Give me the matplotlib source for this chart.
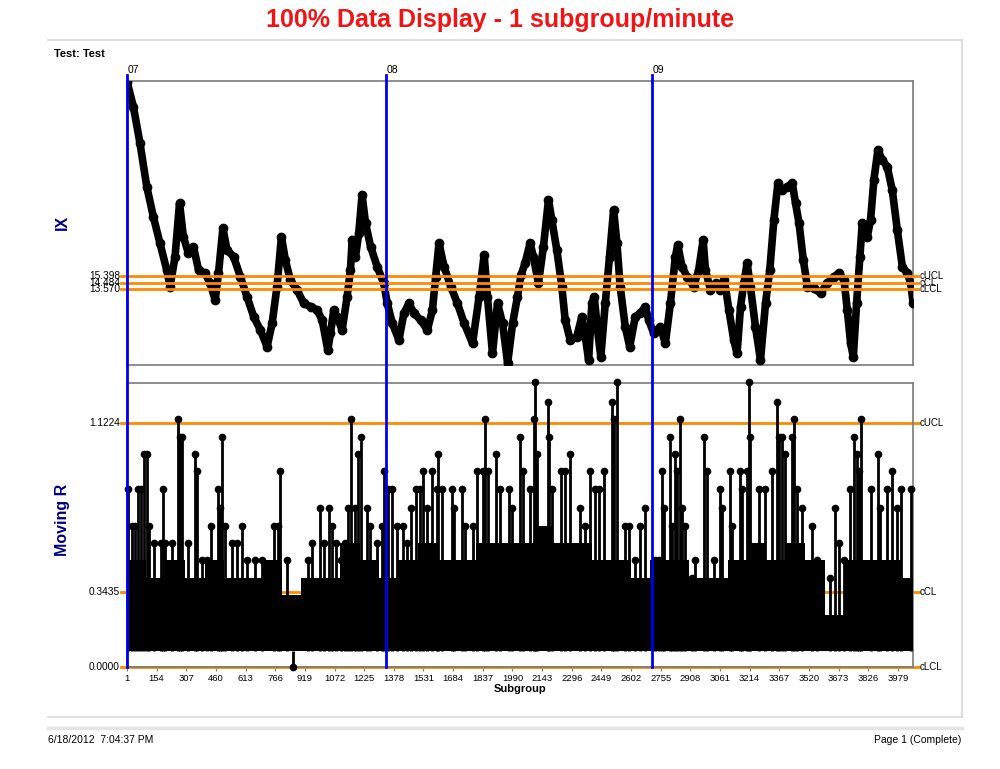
import matplotlib
matplotlib.use("Agg")
import matplotlib.pyplot as plt
from matplotlib.lines import Line2D

plt.rcParams['font.family'] = ['Liberation Sans', 'DejaVu Sans']

# ---- data ----
# IX trace (subgroup, value)
ix_sub = [1, 34, 68, 103, 137, 171, 206, 223, 249, 272, 292, 318, 344, 370, 404,
          430, 456, 473, 496, 517, 551, 586, 620, 655, 689, 724, 750, 775, 798, 818,
          844, 879, 913, 948, 982, 1008, 1037, 1051, 1068, 1085, 1111, 1137, 1154,
          1163, 1180, 1197, 1214, 1232, 1258, 1292, 1326, 1344, 1370, 1404, 1430,
          1456, 1482, 1516, 1551, 1577, 1594, 1611, 1637, 1672, 1706, 1741, 1784,
          1818, 1844, 1861, 1887, 1913, 1939, 1965, 1991, 2016, 2034, 2055, 2081,
          2098, 2124, 2150, 2176, 2193, 2219, 2245, 2262, 2288, 2322, 2348, 2366,
          2383, 2400, 2412, 2429, 2446, 2469, 2491, 2512, 2529, 2546, 2572, 2595,
          2624, 2650, 2676, 2693, 2719, 2753, 2779, 2805, 2831, 2843, 2865, 2891,
          2925, 2951, 2974, 2986, 3012, 3038, 3063, 3084, 3107, 3132, 3149, 3167,
          3184, 3201, 3218, 3244, 3270, 3296, 3318, 3339, 3360, 3382, 3408, 3434,
          3451, 3469, 3491, 3512, 3546, 3580, 3615, 3649, 3675, 3701, 3718, 3735,
          3749, 3766, 3783, 3795, 3821, 3838, 3855, 3876, 3898, 3924, 3950, 3976,
          4002, 4028, 4045, 4058]
ix_val = [42.1, 38.66, 33.63, 27.67, 23.55, 19.9, 16.23, 13.94, 18.06, 25.39, 20.8,
          18.52, 19.43, 16.23, 15.77, 14.4, 12.11, 15.77, 21.95, 18.98, 18.06, 15.31,
          12.56, 9.81, 7.99, 5.69, 8.91, 13.94, 20.8, 17.6, 14.85, 13.48, 11.65,
          11.19, 10.73, 9.36, 5.24, 7.53, 10.73, 9.81, 7.99, 12.56, 16.23, 20.35,
          18.06, 21.27, 26.53, 22.64, 19.43, 16.68, 14.4, 11.65, 8.91, 6.61, 10.28,
          11.65, 10.28, 9.36, 7.99, 10.73, 15.31, 19.9, 16.68, 13.94, 11.65, 8.91,
          6.16, 12.56, 18.29, 12.56, 4.78, 11.65, 8.91, 3.41, 8.91, 12.56, 15.5,
          17.15, 19.9, 18.06, 14.4, 19.43, 25.84, 23.1, 18.98, 13.94, 9.36, 6.61,
          7.07, 9.81, 7.07, 3.87, 11.65, 12.56, 7.99, 4.32, 11.65, 18.06, 24.47,
          19.9, 13.94, 8.44, 5.69, 9.81, 10.28, 11.19, 9.36, 7.53, 8.44, 6.16, 11.65,
          18.06, 19.66, 16.68, 15.31, 13.94, 16.23, 20.35, 16.23, 13.48, 14.4, 13.48,
          14.85, 10.73, 6.61, 4.78, 11.19, 14.4, 17.15, 13.94, 8.44, 3.87, 11.65,
          16.23, 23.1, 28.13, 27.2, 27.67, 28.13, 25.39, 22.64, 17.6, 13.94, 13.71,
          13.03, 14.4, 15.31, 15.77, 14.85, 10.73, 6.16, 4.32, 11.65, 18.06, 22.64,
          20.8, 23.1, 28.59, 32.71, 31.34, 30.42, 27.2, 21.72, 16.68, 15.77, 14.4,
          11.65]

ix_limits = [15.398, 14.484, 13.570]
ix_limit_names = ['cUCL', 'cCL', 'cLCL']
mr_limits = [1.1224, 0.3435, 0.0000]
mr_limit_names = ['cUCL', 'cCL', 'cLCL']

# moving range: dense core band (top level per 100 subgroups)
mr_band_sub = [1, 101, 201, 301, 401, 501, 601, 701, 801, 901, 1001, 1101, 1201,
               1301, 1401, 1501, 1601, 1701, 1801, 1901, 2001, 2101, 2201, 2301,
               2401, 2501, 2601, 2701, 2801, 2901, 3001, 3101, 3201, 3301, 3401,
               3501, 3601, 3701, 3801, 3901, 4001]
mr_band_top = [0.49, 0.41, 0.49, 0.41, 0.49, 0.41, 0.41, 0.49, 0.33, 0.41, 0.41,
               0.57, 0.49, 0.41, 0.49, 0.57, 0.49, 0.49, 0.57, 0.57, 0.57, 0.65,
               0.57, 0.57, 0.49, 0.49, 0.41, 0.49, 0.49, 0.41, 0.41, 0.49, 0.57,
               0.49, 0.57, 0.49, 0.24, 0.49, 0.49, 0.49, 0.41]
mr_floor = 0.075

# moving range: individual spikes above the band
mr_spike_sub = [8, 25, 42, 59, 73, 90, 102, 114, 142, 179, 188, 196, 234, 266, 274,
                283, 317, 352, 360, 389, 412, 434, 469, 481, 490, 507, 541, 567, 593,
                619, 662, 696, 757, 780, 791, 825, 858, 934, 954, 997, 1019, 1043,
                1057, 1082, 1105, 1126, 1140, 1157, 1178, 1195, 1209, 1238, 1255,
                1290, 1315, 1329,
                1350, 1367, 1393, 1427, 1444, 1467, 1491, 1514, 1531, 1548, 1574,
                1600, 1608, 1626, 1677, 1686, 1729, 1746, 1789, 1806, 1836, 1846,
                1863, 1904, 1927, 1973, 1987, 2030, 2042, 2082, 2099, 2107, 2116,
                2172, 2179, 2193, 2241, 2262, 2288, 2339, 2365, 2391, 2417, 2438,
                2460, 2503, 2512, 2529, 2569, 2589, 2624, 2650, 2672,
                2727, 2744, 2761, 2770, 2801, 2813, 2830, 2839, 2853, 2865, 2882,
                2917, 2934, 2977, 2994, 3029, 3060, 3072, 3111, 3123, 3163, 3175,
                3201, 3213, 3218, 3261, 3295, 3330, 3356, 3364, 3382, 3395, 3433,
                3445, 3459, 3485, 3536, 3562, 3631, 3657, 3674, 3700, 3731, 3755,
                3769, 3778, 3791, 3838, 3877, 3889, 3924, 3950, 3976, 3993, 4045]
mr_spike_val = [0.82, 0.65, 0.65, 0.82, 0.82, 0.98, 0.98, 0.65, 0.57, 0.57,
                0.82, 0.57, 0.57, 1.14, 1.06, 1.06, 0.57, 0.98, 0.90, 0.49,
                0.49, 0.65, 0.82, 0.73, 1.06, 0.65, 0.57, 0.57, 0.65, 0.49,
                0.49, 0.49, 0.65, 0.65, 0.90, 0.49, 0.00, 0.49, 0.57, 0.73,
                0.57, 0.73, 0.65, 0.57, 0.49, 0.57, 0.73, 1.14, 0.73, 0.98,
                1.06, 0.73, 0.65, 0.57, 0.65, 0.90,
                0.82, 0.82, 0.65, 0.65, 0.57, 0.73, 0.82, 0.82, 0.90, 0.73,
                0.90, 0.82, 0.98, 0.82, 0.82, 0.73, 0.82, 0.65, 0.65, 0.90,
                0.90, 1.14, 0.90, 0.98, 0.82, 0.82, 0.73, 1.06, 0.90, 0.82,
                1.14, 1.31, 0.98, 1.22, 1.06, 0.82, 0.90, 0.90, 0.98, 0.73,
                0.65, 0.90, 0.82, 0.82, 0.90, 1.22, 1.14, 1.31, 0.65, 0.65,
                0.49, 0.65, 0.73,
                0.49, 0.49, 0.90, 0.73, 1.06, 0.65, 0.98, 0.90, 1.14, 0.73,
                0.65, 0.41, 0.49, 1.06, 0.90, 0.49, 0.82, 0.73, 0.90, 0.65,
                0.90, 0.82, 0.90, 1.31, 1.06, 0.82, 0.82, 0.90, 1.22, 1.06,
                1.06, 0.98, 1.06, 1.14, 0.82, 0.73, 0.65, 0.49, 0.41, 0.73,
                0.57, 0.49, 0.82, 1.06, 0.98, 0.90, 1.14, 0.82, 0.98, 0.73,
                0.82, 0.90, 0.73, 0.82, 0.82]

day_sub = [1, 1338, 2711]
day_labels = ['07', '08', '09']

xtick_sub = [1, 154, 307, 460, 613, 766, 919, 1072, 1225, 1378, 1531, 1684, 1837,
             1990, 2143, 2296, 2449, 2602, 2755, 2908, 3061, 3214, 3367, 3520,
             3673, 3826, 3979]
n_sub = 4057

ORANGE = '#ff8a00'
BLUE = '#0000f0'
GRAY = '#7a7a7a'
NAVY = '#000080'

fig = plt.figure(figsize=(10, 7.69), dpi=100)
ax_ix = fig.add_axes([0.127, 0.5254, 0.786, 0.3693])
ax_mr = fig.add_axes([0.127, 0.1326, 0.786, 0.3693])

# ---- IX panel ----
ax_ix.plot(ix_sub, ix_val, color='black', lw=5.5, marker='o', ms=6,
           solid_joinstyle='round', solid_capstyle='round', zorder=3)
for v, name in zip(ix_limits, ix_limit_names):
    ax_ix.plot([-0.007, 1.007], [v, v], transform=ax_ix.get_yaxis_transform(),
               color=ORANGE, lw=2, clip_on=False, zorder=4)
    ax_ix.text(-0.009, v, f'{v:.3f}', transform=ax_ix.get_yaxis_transform(),
               ha='right', va='center', fontsize=7.3)
    ax_ix.text(1.009, v, name, transform=ax_ix.get_yaxis_transform(),
               ha='left', va='center', fontsize=7)
ax_ix.set_xlim(1, n_sub)
ax_ix.set_ylim(3.18, 42.19)
ax_ix.set_xticks([])
ax_ix.set_yticks([])

for s, lab in zip(day_sub, day_labels):
    ax_ix.text(s + 4, 1.039, lab, transform=ax_ix.get_xaxis_transform(),
               ha='left', va='center', fontsize=7.5)

# ---- Moving range panel ----
ax_mr.fill_between(mr_band_sub + [n_sub], mr_floor, mr_band_top + [mr_band_top[-1]],
                   step='post', color='black', lw=0, zorder=3)
ax_mr.vlines(mr_spike_sub, mr_floor, mr_spike_val, color='black', lw=2, zorder=3)
ax_mr.plot(mr_spike_sub, mr_spike_val, 'o', color='black', ms=4.5,
           clip_on=False, zorder=3)
for v, name in zip(mr_limits, mr_limit_names):
    ax_mr.plot([-0.007, 1.007], [v, v], transform=ax_mr.get_yaxis_transform(),
               color=ORANGE, lw=2, clip_on=False, zorder=2)
    ax_mr.text(-0.009, v, f'{v:.4f}', transform=ax_mr.get_yaxis_transform(),
               ha='right', va='center', fontsize=7.3)
    ax_mr.text(1.009, v, name, transform=ax_mr.get_yaxis_transform(),
               ha='left', va='center', fontsize=7)
ax_mr.set_xlim(1, n_sub)
ax_mr.set_ylim(0, 1.306)
ax_mr.set_yticks([])
ax_mr.set_xticks(xtick_sub)
ax_mr.set_xticklabels([str(t) for t in xtick_sub], fontsize=6.8)
ax_mr.tick_params(axis='x', length=3, color=GRAY, pad=2)

for s in day_sub:
    ax_mr.axvline(s, ymin=0, ymax=(667 - 75) / 284, color=BLUE, lw=2,
                  clip_on=False, zorder=6)

for ax in (ax_ix, ax_mr):
    for sp in ax.spines.values():
        sp.set_color(GRAY)
        sp.set_linewidth(1.2)

# ---- labels and page decoration ----
fig.text(0.5, 1 - 20 / 769, '100% Data Display - 1 subgroup/minute', color='#f01414',
         fontsize=18, weight='bold', ha='center', va='center')
fig.text(0.054, 1 - 54 / 769, 'Test: Test', fontsize=8, weight='bold',
         ha='left', va='center')
fig.text(0.062, 1 - 222 / 769, 'IX', color=NAVY, fontsize=11.5, weight='bold',
         rotation=90, ha='center', va='center')
fig.text(0.062, 1 - 520 / 769, 'Moving R', color=NAVY, fontsize=11.5, weight='bold',
         rotation=90, ha='center', va='center')
fig.text(0.52, 1 - 689 / 769, 'Subgroup', fontsize=8, weight='bold',
         ha='center', va='center')
fig.text(0.048, 1 - 740 / 769, '6/18/2012  7:04:37 PM', fontsize=7.5,
         ha='left', va='center')
fig.text(0.961, 1 - 740 / 769, 'Page 1 (Complete)', fontsize=7.5,
         ha='right', va='center')

frame = '#d8d8d8'
fig.add_artist(Line2D([0.048, 0.962], [1 - 40 / 769] * 2, color=frame, lw=1.2))
fig.add_artist(Line2D([0.962, 0.962], [1 - 40 / 769, 1 - 717 / 769], color=frame, lw=1.2))
fig.add_artist(Line2D([0.048, 0.962], [1 - 717 / 769] * 2, color=frame, lw=1.2))
fig.add_artist(Line2D([0.048, 0.962], [1 - 728 / 769] * 2, color='#e4e4e4', lw=2.5))

fig.savefig('out.png', dpi=100)
